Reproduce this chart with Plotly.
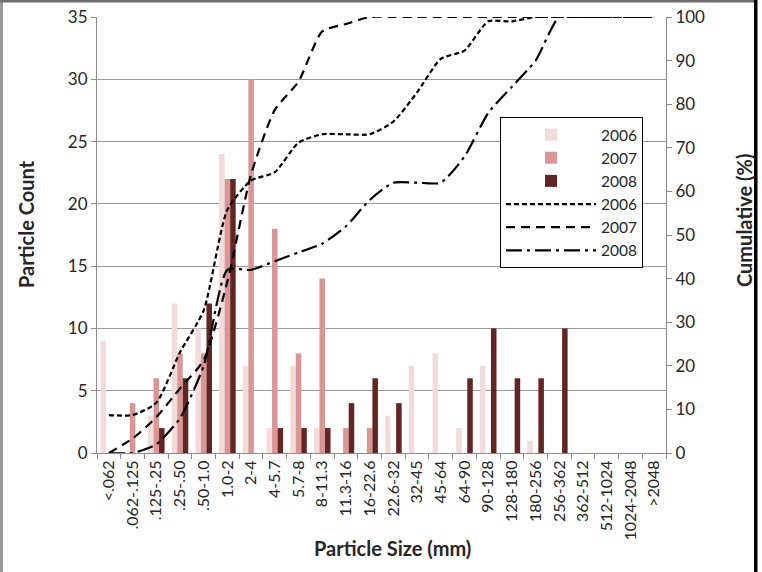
import plotly.graph_objects as go

categories = ["<.062", ".062-.125", ".125-.25", ".25-.50", ".50-1.0", "1.0-2", "2-4", "4-5.7",
              "5.7-8", "8-11.3", "11.3-16", "16-22.6", "22.6-32", "32-45", "45-64", "64-90",
              "90-128", "128-180", "180-256", "256-362", "362-512", "512-1024", "1024-2048", ">2048"]

count_2006 = [9, 0, 3, 12, 10, 24, 7, 2, 7, 2, 0, 0, 3, 7, 8, 2, 7, 0, 1, 0, 0, 0, 0, 0]
count_2007 = [0, 4, 6, 8, 8, 22, 30, 18, 8, 14, 2, 2, 0, 0, 0, 0, 0, 0, 0, 0, 0, 0, 0, 0]
count_2008 = [0, 0, 2, 6, 12, 22, 0, 2, 2, 2, 4, 6, 4, 0, 0, 6, 10, 6, 6, 10, 0, 0, 0, 0]

cum_2006 = [8.7, 8.7, 11.5, 23.1, 32.7, 55.8, 62.5, 64.4, 71.2, 73.1, 73.1, 73.1, 76.0, 82.7,
            90.4, 92.3, 99.0, 99.0, 100, 100, 100, 100, 100, 100]
cum_2007 = [0, 3.3, 8.2, 14.8, 21.3, 39.3, 63.9, 78.7, 85.2, 96.7, 98.4, 100, 100, 100,
            100, 100, 100, 100, 100, 100, 100, 100, 100, 100]
cum_2008 = [0, 0, 2, 8, 20, 42, 42, 44, 46, 48, 52, 58, 62, 62, 62, 68, 78, 84, 90, 100,
            100, 100, 100, 100]

FONT = "Lato"
TXT = "#262626"

fig = go.Figure()
bar_colors = {"2006": "#F2DCDB", "2007": "#D99694", "2008": "#632523"}
for name, vals in (("2006", count_2006), ("2007", count_2007), ("2008", count_2008)):
    fig.add_trace(go.Bar(x=categories, y=vals, name=name, marker_color=bar_colors[name],
                         marker_line_width=0))

line_dash = {"2006": "5px,3px", "2007": "9px,6px", "2008": "16px,5px,3px,5px"}
for name, vals in (("2006", cum_2006), ("2007", cum_2007), ("2008", cum_2008)):
    fig.add_trace(go.Scatter(x=categories, y=vals, name=name, yaxis="y2", mode="lines",
                             line=dict(color="black", width=2.2, dash=line_dash[name],
                                       shape="spline", smoothing=0.6)))

W, H = 762, 572
L, R, T, B = 97, 96, 17, 119
pw, ph = W - L - R, H - T - B
def px(X):
    return (X - L) / pw
def py(Y):
    return (H - B - Y) / ph

title_font = dict(size=20, color=TXT, family=FONT)

fig.update_layout(
    width=W, height=H, autosize=False,
    margin=dict(l=L, r=R, t=T, b=B, autoexpand=False),
    paper_bgcolor="white", plot_bgcolor="white",
    font=dict(family=FONT, color=TXT, size=13),
    barmode="group", bargap=0.3, bargroupgap=0,
    showlegend=True,
    legend=dict(x=px(500), y=py(117), xanchor="left", yanchor="top",
                bgcolor="white", bordercolor="black", borderwidth=1,
                font=dict(size=15.5, family=FONT, color=TXT), itemwidth=90,
                tracegroupgap=0),
    xaxis=dict(type="category", tickangle=-90, tickson="boundaries", ticks="outside",
               ticklen=5, tickcolor="#8c8c8c", showline=True, linecolor="#8c8c8c",
               linewidth=1, showgrid=False, tickfont=dict(size=16, color=TXT),
               automargin=False),
    yaxis=dict(range=[0, 35], dtick=5, ticks="outside", ticklen=5, tickcolor="#8c8c8c",
               showline=True, linecolor="#8c8c8c", showgrid=True, gridcolor="#9a9a9a",
               gridwidth=1, zeroline=False, tickfont=dict(size=17, color=TXT),
               automargin=False),
    yaxis2=dict(range=[0, 100], dtick=10, overlaying="y", side="right", ticks="outside",
                ticklen=5, tickcolor="#8c8c8c", showline=True, linecolor="#8c8c8c",
                showgrid=False, zeroline=False, tickfont=dict(size=17, color=TXT),
                automargin=False),
    annotations=[
        dict(text="<b>Particle Size (mm)</b>", xref="paper", yref="paper", x=px(392), y=py(548),
             xanchor="center", yanchor="middle", showarrow=False, font=title_font),
        dict(text="<b>Particle Count</b>", xref="paper", yref="paper", x=px(26), y=py(224),
             xanchor="center", yanchor="middle", showarrow=False, textangle=-90, font=title_font),
        dict(text="<b>Cumulative (%)</b>", xref="paper", yref="paper", x=px(744), y=py(220),
             xanchor="center", yanchor="middle", showarrow=False, textangle=-90, font=title_font),
    ],
    shapes=[
        dict(type="rect", xref="paper", yref="paper", x0=px(0), x1=px(3), y0=py(572), y1=py(0),
             fillcolor="#9a9a9a", line_width=0, layer="above"),
        dict(type="rect", xref="paper", yref="paper", x0=px(0), x1=px(757), y0=py(2.5), y1=py(0),
             fillcolor="#6e6e6e", line_width=0, layer="above"),
        dict(type="rect", xref="paper", yref="paper", x0=px(754), x1=px(757.5), y0=py(572), y1=py(0),
             fillcolor="black", line_width=0, layer="above"),
    ],
)

fig.write_html("out.html")
